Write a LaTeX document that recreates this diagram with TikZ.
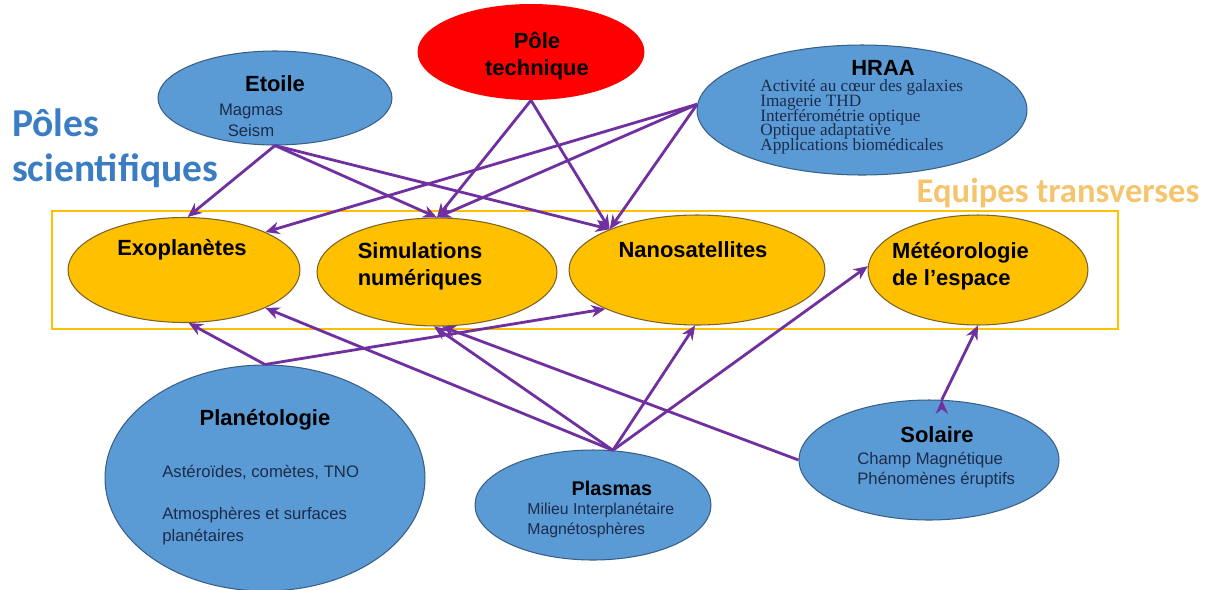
\documentclass[tikz,border=0pt]{standalone}
\usepackage{fontspec}
\setmainfont{Liberation Sans}
\newfontfamily\hraafont{Liberation Serif}
\newfontfamily\polefont{Carlito}
\usepackage{xcolor}
\usetikzlibrary{arrows.meta, shapes.geometric}

\definecolor{poleblue}{HTML}{5B9BD5}
\definecolor{poleedge}{HTML}{3A5F86}
\definecolor{jaune}{HTML}{FFC000}
\definecolor{jauneedge}{HTML}{7A6228}
\definecolor{rouge}{HTML}{FF0000}
\definecolor{lien}{HTML}{7030A0}
\definecolor{souscol}{HTML}{1C2B4A}
\definecolor{scibleu}{HTML}{3A7DC2}
\definecolor{equipecol}{HTML}{F4C56C}
\newcommand\hraaserre{\hraafont\fontsize{9.8}{8.3}\selectfont\lineskiplimit=-10pt\relax}

\begin{document}
\begin{tikzpicture}[x=0.02cm, y=-0.02cm,
  pole/.style={ellipse, draw=poleedge, line width=0.6pt, fill=poleblue, inner sep=0pt},
  equipe/.style={ellipse, draw=jauneedge, line width=0.6pt, fill=jaune, inner sep=0pt},
  titre/.style={font=\bfseries\fontsize{12.5}{15.3}\selectfont, align=center},
  liste/.style={font=\fontsize{9.5}{11.8}\selectfont, text=souscol, align=left, inner sep=0pt},
  link/.style={-{Stealth[length=8pt,width=7pt]}, draw=lien, line width=1.6pt}]

  \useasboundingbox (0,0) rectangle (1210,589);

  % equipes transverses
  \draw[jaune, line width=1.2pt] (52,211) rectangle (1118,329);
  \node[equipe, minimum width=4.64cm, minimum height=2.1cm] (exo) at (184,270) {};
  \node[equipe, minimum width=4.8cm, minimum height=2.16cm] (simu) at (437,272) {};
  \node[equipe, minimum width=5.12cm, minimum height=2.2cm] (nano) at (697,270) {};
  \node[equipe, minimum width=4.4cm, minimum height=2.2cm] (meteo) at (978,270) {};

  % poles
  \node[pole, minimum width=4.68cm, minimum height=1.88cm] (etoile) at (275,98) {};
  \node[ellipse, fill=rouge, inner sep=0pt, minimum width=4.54cm, minimum height=1.92cm] (tech) at (531,52) {};
  \node[pole, minimum width=6.6cm, minimum height=2.6cm] (hraa) at (862,110) {};
  \node[pole, minimum width=6.4cm, minimum height=4.52cm] (plan) at (265,478) {};
  \node[pole, minimum width=4.72cm, minimum height=2.2cm] (plasma) at (593,505) {};
  \node[pole, minimum width=5.2cm, minimum height=2.4cm] (solaire) at (929,460) {};

  \path[link]
    (etoile.south) edge (exo.86)
    (etoile.south) edge (simu.north)
    (etoile.south) edge (nano.155)
    (tech.south) edge (simu.north)
    (tech.south) edge (nano.155)
    (hraa.178) edge (exo.25)
    (hraa.178) edge (simu.north)
    (hraa.178) edge (nano.155)
    (plan.north) edge (exo.-85)
    (plan.north) edge (nano.203)
    (plasma.70) edge (exo.-25)
    (plasma.70) edge (simu.-93)
    (plasma.70) edge (nano.-92)
    (plasma.70) edge (meteo.178)
    (solaire.west) edge (simu.-85)
    (solaire.78) edge (meteo.south);

  % textes
  \node[font=\polefont\bfseries\fontsize{22.5}{25.5}\selectfont, text=scibleu, align=left, anchor=west] (sci-t) at (6,148) {Pôles\\scientifiques};
  \node[font=\polefont\bfseries\fontsize{19.7}{22}\selectfont, text=equipecol] (equipe-t) at (1058,193) {Equipes transverses};

  \node[titre] (etoile-t) at (275,84) {Etoile};
  \node[liste, align=center] (etoile-l) at (251,120) {Magmas\\Seism};
  \node[titre] (tech-t) at (537,56) {Pôle\\technique};
  \node[titre] (hraa-t) at (883,68) {HRAA};
  \node[liste, font=\hraaserre, anchor=west] (hraa-l) at (760,117)
    {Activité au cœur des galaxies\\Imagerie THD\\Interférométrie optique\\Optique adaptative\\Applications biomédicales};

  \node[titre] (exo-t) at (182,250) {Exoplanètes};
  \node[titre] (simu-t) at (420,266) {Simulations\\numériques};
  \node[titre] (nano-t) at (693,250) {Nanosatellites};
  \node[titre, align=left, anchor=west] (meteo-t) at (886,266) {Météorologie\\de l’espace};

  \node[titre] (plan-t) at (265,420) {Planétologie};
  \node[liste, anchor=west] (plan-l1) at (162,472) {Astéroïdes, comètes, TNO};
  \node[liste, font=\fontsize{9.5}{12.5}\selectfont, anchor=west] (plan-l2) at (162,526) {Atmosphères et surfaces\\planétaires};
  \node[titre, font=\bfseries\fontsize{11.3}{13}\selectfont] (plasma-t) at (612,488) {Plasmas};
  \node[liste, font=\fontsize{9}{11.3}\selectfont, anchor=west] (plasma-l) at (527,520) {Milieu Interplanétaire\\Magnétosphères};
  \node[titre] (solaire-t) at (937,435) {Solaire};
  \node[liste, anchor=west] (solaire-l) at (857,470) {Champ Magnétique\\Phénomènes éruptifs};
\end{tikzpicture}
\end{document}
